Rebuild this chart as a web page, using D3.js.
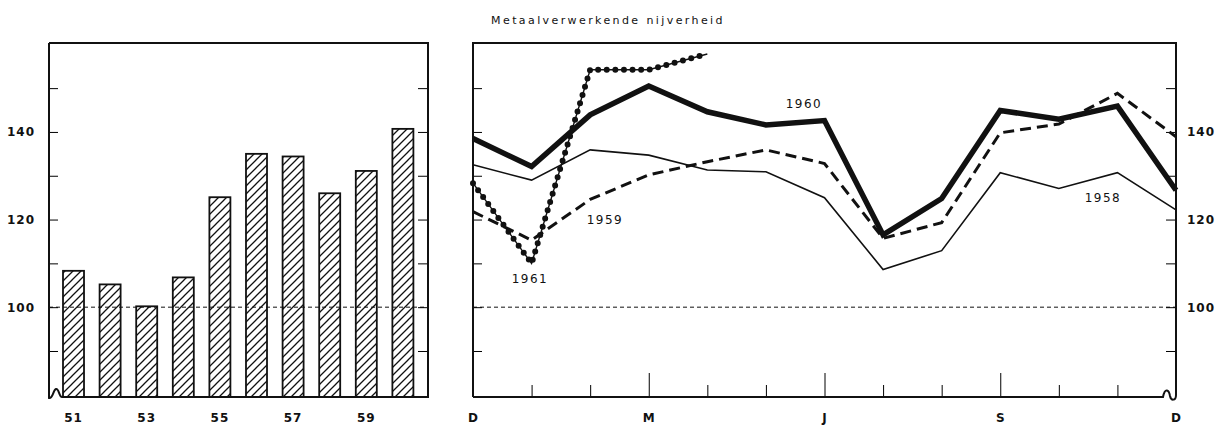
<!DOCTYPE html>
<html>
<head>
<meta charset="utf-8">
<script src="https://cdn.jsdelivr.net/npm/d3@7"></script>
<style>
  body { margin: 0; background: #fff; overflow: hidden; }
  svg text { font-family: "DejaVu Sans", sans-serif; fill: #111; }
</style>
</head>
<body>
<div id="chart"></div>
<script>
// yearly index (left panel)
const years = [51, 52, 53, 54, 55, 56, 57, 58, 59, 60];
const yearValues = [108.3, 105.2, 100.2, 106.8, 125.1, 135.0, 134.4, 126.0, 131.1, 140.7];
const yearLabels = [51, 53, 55, 57, 59];

// monthly index (right panel), December to December
const months = ["D", "J", "F", "M", "A", "M", "J", "J", "A", "S", "O", "N", "D"];
const s1958 = [132.5, 129.0, 135.9, 134.7, 131.3, 130.9, 125.0, 108.6, 112.9, 130.7, 127.1, 130.7, 122.2];
const s1959 = [121.8, 115.3, 124.6, 130.2, 133.2, 135.9, 132.8, 115.7, 119.3, 139.8, 141.8, 148.8, 138.9];
const s1960 = [138.5, 132.1, 143.9, 150.5, 144.6, 141.6, 142.6, 116.5, 124.8, 144.9, 142.9, 145.9, 126.7];
const s1961 = [128.3, 110.0, 154.2, 154.2, 157.8];

const yTicks = [90, 100, 110, 120, 130, 140, 150];
const yLabels = [100, 120, 140];

const width = 1218, height = 426;
const yTop = 43, yBottom = 397;

const svg = d3.select("#chart")
  .append("svg")
  .attr("width", width)
  .attr("height", height)
  .style("display", "block");

const ink = "#111";

const y = d3.scaleLinear()
  .domain([79.5, 160.3])
  .range([yBottom, yTop]);

// hatch pattern for the bars
svg.append("defs").append("pattern")
  .attr("id", "hatch")
  .attr("patternUnits", "userSpaceOnUse")
  .attr("width", 8)
  .attr("height", 8)
  .append("path")
  .attr("d", "M-1,9 L9,-1 M-1,1 L1,-1 M7,9 L9,7")
  .attr("stroke", ink)
  .attr("stroke-width", 1.3);

// ---------- left panel ----------
const lx0 = 49, lx1 = 428;

const xb = d3.scaleBand()
  .domain(years)
  .range([44.7, 431.7])
  .paddingInner(0.426)
  .paddingOuter(0.5);

const left = svg.append("g");

// reference line at 100
left.append("line")
  .attr("x1", lx0).attr("x2", lx1)
  .attr("y1", y(100)).attr("y2", y(100))
  .attr("stroke", ink)
  .attr("stroke-width", 1)
  .attr("stroke-dasharray", "4 3");

left.selectAll("rect.bar")
  .data(years)
  .join("rect")
  .attr("class", "bar")
  .attr("x", d => xb(d))
  .attr("width", xb.bandwidth())
  .attr("y", (d, i) => y(yearValues[i]))
  .attr("height", (d, i) => yBottom - y(yearValues[i]))
  .attr("fill", "url(#hatch)")
  .attr("stroke", ink)
  .attr("stroke-width", 1.8);

left.append("g")
  .attr("transform", `translate(${lx0},0)`)
  .call(d3.axisLeft(y)
    .tickValues(yTicks)
    .tickSize(-9)
    .tickSizeOuter(0)
    .tickPadding(14)
    .tickFormat(d => yLabels.includes(d) ? d : ""))
  .call(g => g.select(".domain").remove());

left.append("g")
  .attr("transform", `translate(${lx1},0)`)
  .call(d3.axisRight(y).tickValues(yTicks).tickSize(-10).tickSizeOuter(0).tickFormat(""))
  .call(g => g.select(".domain").remove());

// frame with the break mark at lower left
left.append("path")
  .attr("d", `M${lx0},${yTop} L${lx1},${yTop} L${lx1},${yBottom} L62,${yBottom}
    C59,${yBottom} 59,388 56,389 C53,390 53,399 49,398 L${lx0},${yTop}`)
  .attr("fill", "none")
  .attr("stroke", ink)
  .attr("stroke-width", 2);

left.append("g")
  .attr("transform", `translate(0,${yBottom})`)
  .call(d3.axisBottom(xb).tickValues(yearLabels).tickSize(0).tickPadding(16))
  .call(g => g.select(".domain").remove());

// ---------- right panel ----------
const rx0 = 473, rx1 = 1176;

const xm = d3.scalePoint()
  .domain(d3.range(months.length))
  .range([rx0, rx1]);

const right = svg.append("g");

right.append("line")
  .attr("x1", rx0).attr("x2", rx1)
  .attr("y1", y(100)).attr("y2", y(100))
  .attr("stroke", ink)
  .attr("stroke-width", 1)
  .attr("stroke-dasharray", "4 3");

right.append("g")
  .attr("transform", `translate(${rx0},0)`)
  .call(d3.axisLeft(y).tickValues(yTicks).tickSize(-9).tickSizeOuter(0).tickFormat(""))
  .call(g => g.select(".domain").remove());

right.append("g")
  .attr("transform", `translate(${rx1},0)`)
  .call(d3.axisRight(y)
    .tickValues(yTicks)
    .tickSize(-10)
    .tickSizeOuter(0)
    .tickPadding(11)
    .tickFormat(d => yLabels.includes(d) ? d : ""))
  .call(g => g.select(".domain").remove());

right.append("g")
  .attr("transform", `translate(0,${yBottom})`)
  .call(d3.axisBottom(xm)
    .tickValues(d3.range(1, months.length - 1))
    .tickSize(-12)
    .tickSizeOuter(0)
    .tickFormat(""))
  .call(g => g.select(".domain").remove())
  .call(g => g.selectAll(".tick line")
    .filter(d => d % 3 === 0)
    .attr("y2", -24));

right.append("g")
  .attr("transform", `translate(0,${yBottom})`)
  .call(d3.axisBottom(xm)
    .tickValues(d3.range(0, months.length, 3))
    .tickSize(0)
    .tickPadding(16)
    .tickFormat(i => months[i]))
  .call(g => g.select(".domain").remove());

// frame with the break mark at lower right
right.append("path")
  .attr("d", `M${rx0},${yBottom} L${rx0},${yTop} L${rx1},${yTop} L${rx1},${yBottom - 2}
    C${rx1},401 1171,401 1170,396 C1169,390 1165,387 1163,${yBottom} L${rx0},${yBottom}`)
  .attr("fill", "none")
  .attr("stroke", ink)
  .attr("stroke-width", 2);

svg.selectAll(".tick text")
  .style("font-size", "12px")
  .style("font-weight", "bold")
  .style("letter-spacing", "1px");

const line = d3.line()
  .x((d, i) => xm(i))
  .y(d => y(d));

right.append("path")
  .datum(s1958)
  .attr("fill", "none")
  .attr("stroke", ink)
  .attr("stroke-width", 1.6)
  .attr("d", line);

right.append("path")
  .datum(s1959)
  .attr("fill", "none")
  .attr("stroke", ink)
  .attr("stroke-width", 3)
  .attr("stroke-dasharray", "11 6")
  .attr("d", line);

right.append("path")
  .datum(s1960)
  .attr("fill", "none")
  .attr("stroke", ink)
  .attr("stroke-width", 5.5)
  .attr("d", line);

right.append("path")
  .datum(s1961)
  .attr("fill", "none")
  .attr("stroke", ink)
  .attr("stroke-width", 1.4)
  .attr("d", line);

right.append("path")
  .datum(s1961)
  .attr("fill", "none")
  .attr("stroke", ink)
  .attr("stroke-width", 6)
  .attr("stroke-linecap", "round")
  .attr("stroke-dasharray", "0 8.6")
  .attr("d", line);

// series labels
const seriesLabels = [
  { text: "1960", x: 804, y: 108 },
  { text: "1959", x: 605, y: 224 },
  { text: "1961", x: 530, y: 283 },
  { text: "1958", x: 1103, y: 202 },
];

right.selectAll("text.series")
  .data(seriesLabels)
  .join("text")
  .attr("class", "series")
  .attr("x", d => d.x)
  .attr("y", d => d.y)
  .attr("text-anchor", "middle")
  .style("font-size", "12px")
  .style("letter-spacing", "1.5px")
  .text(d => d.text);

svg.append("text")
  .attr("x", 608)
  .attr("y", 24)
  .attr("text-anchor", "middle")
  .style("font-size", "11px")
  .style("letter-spacing", "2.4px")
  .text("Metaalverwerkende nijverheid");
</script>
</body>
</html>
